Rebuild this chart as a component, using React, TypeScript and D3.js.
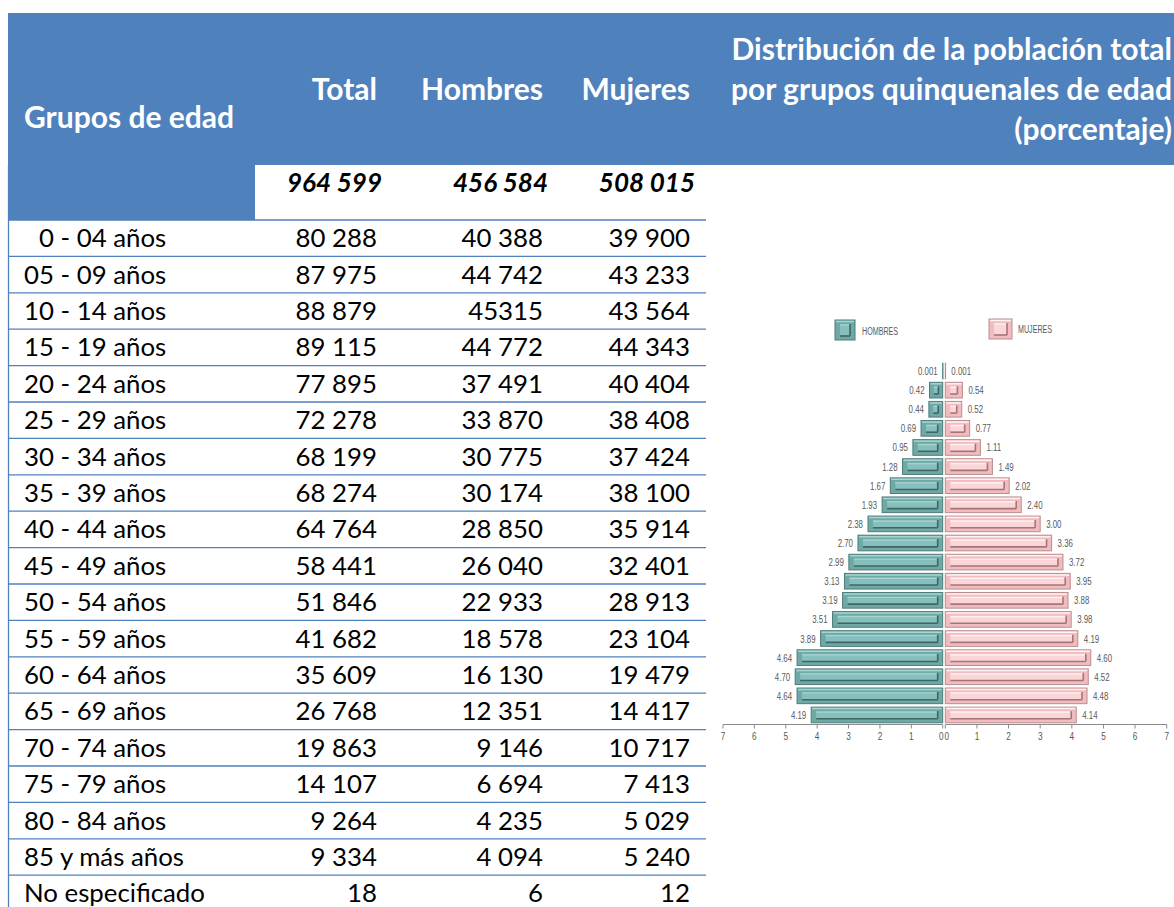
import React from "react";
import * as d3 from "d3";

// ---------- DATA ----------
const ageGroups = [
  "\u20070 - 04 años", "05 - 09 años", "10 - 14 años", "15 - 19 años", "20 - 24 años",
  "25 - 29 años", "30 - 34 años", "35 - 39 años", "40 - 44 años", "45 - 49 años",
  "50 - 54 años", "55 - 59 años", "60 - 64 años", "65 - 69 años", "70 - 74 años",
  "75 - 79 años", "80 - 84 años", "85 y más años", "No especificado",
];
const totalCells = [
  "80 288", "87 975", "88 879", "89 115", "77 895", "72 278", "68 199", "68 274", "64 764", "58 441",
  "51 846", "41 682", "35 609", "26 768", "19 863", "14 107", "9 264", "9 334", "18",
];
const hombresCells = [
  "40 388", "44 742", "45315", "44 772", "37 491", "33 870", "30 775", "30 174", "28 850", "26 040",
  "22 933", "18 578", "16 130", "12 351", "9 146", "6 694", "4 235", "4 094", "6",
];
const mujeresCells = [
  "39 900", "43 233", "43 564", "44 343", "40 404", "38 408", "37 424", "38 100", "35 914", "32 401",
  "28 913", "23 104", "19 479", "14 417", "10 717", "7 413", "5 029", "5 240", "12",
];
const grandTotals = ["964 599", "456 584", "508 015"];
const headerCols = ["Total", "Hombres", "Mujeres"];
const rightTitle = ["Distribución de la población total", "por grupos quinquenales de edad", "(porcentaje)"];

// pyramid (same order as ageGroups: 0-04 at bottom ... No especificado on top)
const pctHombres = [4.19, 4.64, 4.70, 4.64, 3.89, 3.51, 3.19, 3.13, 2.99, 2.70, 2.38, 1.93, 1.67, 1.28, 0.95, 0.69, 0.44, 0.42, 0.001];
const pctMujeres = [4.14, 4.48, 4.52, 4.60, 4.19, 3.98, 3.88, 3.95, 3.72, 3.36, 3.00, 2.40, 2.02, 1.49, 1.11, 0.77, 0.52, 0.54, 0.001];
const axisTicks = [0, 1, 2, 3, 4, 5, 6, 7];
const legendLabels = ["HOMBRES", "MUJERES"];

// ---------- STYLE ----------
const BLUE = "#4f81bd";
const FONT = "Lato, 'Open Sans', sans-serif";
const NARROW = "'Liberation Sans', Arial, sans-serif";
const GRAY = "#595959";

const teal = { outer: "#6fa9a6", edge: "#4d7c7a", light: "#a6d5d2", inner: "#86bfbc", dark: "#3e6664" };
const pink = { outer: "#f2bcbf", edge: "#b98e90", light: "#fff2f2", inner: "#fad6d8", dark: "#a47577" };

function NText({ x, y, anchor = "start", size = 10.5, sx = 0.75, children }: any) {
  return (
    <text transform={`translate(${x},${y}) scale(${sx},1)`} textAnchor={anchor} fill={GRAY} fontFamily={NARROW} fontSize={size}>
      {children}
    </text>
  );
}

function BevelBar({ x, y, w, h, c }: { x: number; y: number; w: number; h: number; c: any }) {
  const inset = Math.min(4, w / 4);
  const iw = Math.max(0, w - inset * 2 - 1);
  return (
    <g>
      <rect x={x} y={y} width={Math.max(w, 0.3)} height={h} fill={c.outer} stroke={c.edge} strokeWidth={1} />
      {w > 6 && (
        <>
          <line x1={x + 1} x2={x + w - 1} y1={y + 1.5} y2={y + 1.5} stroke={c.light} strokeWidth={1.5} />
          <rect x={x + inset + 1} y={y + 4} width={iw - 1} height={h - 8} fill={c.inner} />
          <line x1={x + inset + 1} x2={x + inset + iw} y1={y + 5} y2={y + 5} stroke={c.light} strokeWidth={1.2} />
          <line x1={x + inset + 1} x2={x + inset + iw} y1={y + h - 4} y2={y + h - 4} stroke={c.dark} strokeWidth={1.6} />
          <line x1={x + inset + iw} x2={x + inset + iw} y1={y + 4} y2={y + h - 4} stroke={c.dark} strokeWidth={1.6} />
        </>
      )}
    </g>
  );
}

export default function App() {
  // table geometry
  const rowTop0 = 220;
  const rowH = 36.4;
  const colRight = [377, 543, 690];
  const totalsRight = [382, 548, 695];

  // pyramid scales
  const xLeft = d3.scaleLinear().domain([0, 7]).range([942.7, 723]);
  const xRight = d3.scaleLinear().domain([0, 7]).range([945.3, 1166.7]);
  const y = d3.scaleBand<string>().domain(ageGroups).range([724.5, 361.5]).paddingInner(0.18).paddingOuter(0.09);
  const axisY = 724.5;
  const fmt = (v: number) => (v < 0.01 ? "0.001" : v.toFixed(2));

  return (
    <svg width={1174} height={907} style={{ position: "absolute", left: 0, top: 0, display: "block", background: "#fff" }}>
      {/* header */}
      <rect x={8} y={13} width={1166} height={152} fill={BLUE} />
      <rect x={8} y={165} width={247} height={55} fill={BLUE} />
      <text x={24} y={127.5} fill="#fff" fontFamily={FONT} fontWeight={700} fontSize={30}>Grupos de edad</text>
      {headerCols.map((h, i) => (
        <text key={h} x={colRight[i]} y={99.5} textAnchor="end" fill="#fff" fontFamily={FONT} fontWeight={700} fontSize={30}>{h}</text>
      ))}
      {rightTitle.map((t, i) => (
        <text key={t} x={1172} y={59.5 + i * 40} textAnchor="end" fill="#fff" fontFamily={FONT} fontWeight={700} fontSize={30}>{t}</text>
      ))}
      {grandTotals.map((t, i) => (
        <text key={t} x={totalsRight[i]} y={192} textAnchor="end" fill="#000" fontFamily={FONT} fontWeight={700} fontStyle="italic" fontSize={26}>{t}</text>
      ))}

      {/* table rows */}
      <line x1={8.5} x2={8.5} y1={165} y2={907} stroke={BLUE} strokeWidth={1.3} />
      {ageGroups.map((g, i) => {
        const top = rowTop0 + i * rowH;
        const base = top + rowH / 2 + 9;
        return (
          <g key={g}>
            <line x1={8} x2={706} y1={top} y2={top} stroke={BLUE} strokeWidth={1.3} />
            <text x={24} y={base} fill="#000" fontFamily={FONT} fontSize={25.8}>{g}</text>
            <text x={colRight[0]} y={base} textAnchor="end" fill="#000" fontFamily={FONT} fontSize={25.8}>{totalCells[i]}</text>
            <text x={colRight[1]} y={base} textAnchor="end" fill="#000" fontFamily={FONT} fontSize={25.8}>{hombresCells[i]}</text>
            <text x={colRight[2]} y={base} textAnchor="end" fill="#000" fontFamily={FONT} fontSize={25.8}>{mujeresCells[i]}</text>
          </g>
        );
      })}

      {/* legend */}
      <BevelBar x={835} y={320} w={20} h={20} c={teal} />
      <NText x={862} y={335} size={11} sx={0.65}>{legendLabels[0]}</NText>
      <BevelBar x={989} y={319} w={23} h={20} c={pink} />
      <NText x={1018} y={333} size={11} sx={0.65}>{legendLabels[1]}</NText>

      {/* pyramid bars */}
      {ageGroups.map((g, i) => {
        const by = y(g)!;
        const bh = y.bandwidth();
        const lx = xLeft(pctHombres[i]);
        const rx = xRight(pctMujeres[i]);
        return (
          <g key={"b" + g}>
            <BevelBar x={lx} y={by} w={xLeft(0) - lx} h={bh} c={teal} />
            <BevelBar x={xRight(0)} y={by} w={rx - xRight(0)} h={bh} c={pink} />
            <NText x={lx - 5} y={by + bh / 2 + 4} anchor="end">{fmt(pctHombres[i])}</NText>
            <NText x={rx + 6} y={by + bh / 2 + 4} anchor="start">{fmt(pctMujeres[i])}</NText>
          </g>
        );
      })}

      {/* axes */}
      <line x1={xLeft(7)} x2={xLeft(0)} y1={axisY} y2={axisY} stroke="#8a8a8a" strokeWidth={1} />
      <line x1={xRight(0)} x2={xRight(7)} y1={axisY} y2={axisY} stroke="#8a8a8a" strokeWidth={1} />
      {axisTicks.map((t) => (
        <g key={"t" + t}>
          <line x1={xLeft(t)} x2={xLeft(t)} y1={axisY} y2={axisY + 4} stroke="#8a8a8a" />
          <NText x={xLeft(t) - (t === 0 ? 1.5 : 0)} y={axisY + 15} anchor="middle" size={11}>{t}</NText>
          <line x1={xRight(t)} x2={xRight(t)} y1={axisY} y2={axisY + 4} stroke="#8a8a8a" />
          <NText x={xRight(t) + (t === 0 ? 1.5 : 0)} y={axisY + 15} anchor="middle" size={11}>{t}</NText>
        </g>
      ))}
    </svg>
  );
}
